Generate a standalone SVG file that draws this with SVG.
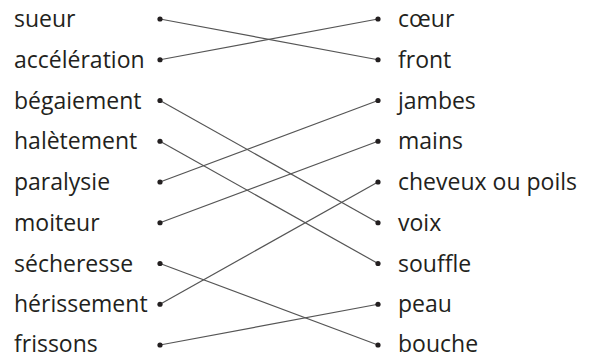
<svg xmlns="http://www.w3.org/2000/svg" width="590" height="358" viewBox="0 0 590 358">
<style>
text{font-family:"Open Sans","Noto Sans",sans-serif;font-size:23px;fill:#231f20}
.c line{stroke:#555;stroke-width:1.2}
circle{fill:#231f20}
</style>
<rect width="590" height="358" fill="#fff"/>
<g class="c" id="connectors">
<line x1="160" y1="19" x2="378" y2="59.75"/>
<line x1="160" y1="59.75" x2="378" y2="19"/>
<line x1="160" y1="100.5" x2="378" y2="222.75"/>
<line x1="160" y1="141.25" x2="378" y2="263.5"/>
<line x1="160" y1="182" x2="378" y2="100.5"/>
<line x1="160" y1="222.75" x2="378" y2="141.25"/>
<line x1="160" y1="263.5" x2="378" y2="345"/>
<line x1="160" y1="304.25" x2="378" y2="182"/>
<line x1="160" y1="345" x2="378" y2="304.25"/>
</g>
<g id="l1"><text x="14" y="27">sueur</text><circle cx="160" cy="19" r="2.6"/></g>
<g id="l2"><text x="14" y="67.75">accélération</text><circle cx="160" cy="59.75" r="2.6"/></g>
<g id="l3"><text x="14" y="108.5">bégaiement</text><circle cx="160" cy="100.5" r="2.6"/></g>
<g id="l4"><text x="14" y="149.25">halètement</text><circle cx="160" cy="141.25" r="2.6"/></g>
<g id="l5"><text x="14" y="190">paralysie</text><circle cx="160" cy="182" r="2.6"/></g>
<g id="l6"><text x="14" y="230.75">moiteur</text><circle cx="160" cy="222.75" r="2.6"/></g>
<g id="l7"><text x="14" y="271.5">sécheresse</text><circle cx="160" cy="263.5" r="2.6"/></g>
<g id="l8"><text x="14" y="312.25">hérissement</text><circle cx="160" cy="304.25" r="2.6"/></g>
<g id="l9"><text x="14" y="351.5">frissons</text><circle cx="160" cy="345" r="2.6"/></g>
<g id="r1"><circle cx="378" cy="19" r="2.6"/><text x="398" y="27">cœur</text></g>
<g id="r2"><circle cx="378" cy="59.75" r="2.6"/><text x="398" y="67.75">front</text></g>
<g id="r3"><circle cx="378" cy="100.5" r="2.6"/><text x="398" y="108.5">jambes</text></g>
<g id="r4"><circle cx="378" cy="141.25" r="2.6"/><text x="398" y="149.25">mains</text></g>
<g id="r5"><circle cx="378" cy="182" r="2.6"/><text x="398" y="190">cheveux ou poils</text></g>
<g id="r6"><circle cx="378" cy="222.75" r="2.6"/><text x="398" y="230.75">voix</text></g>
<g id="r7"><circle cx="378" cy="263.5" r="2.6"/><text x="398" y="271.5">souffle</text></g>
<g id="r8"><circle cx="378" cy="304.25" r="2.6"/><text x="398" y="312.25">peau</text></g>
<g id="r9"><circle cx="378" cy="345" r="2.6"/><text x="398" y="351.5">bouche</text></g>
</svg>
